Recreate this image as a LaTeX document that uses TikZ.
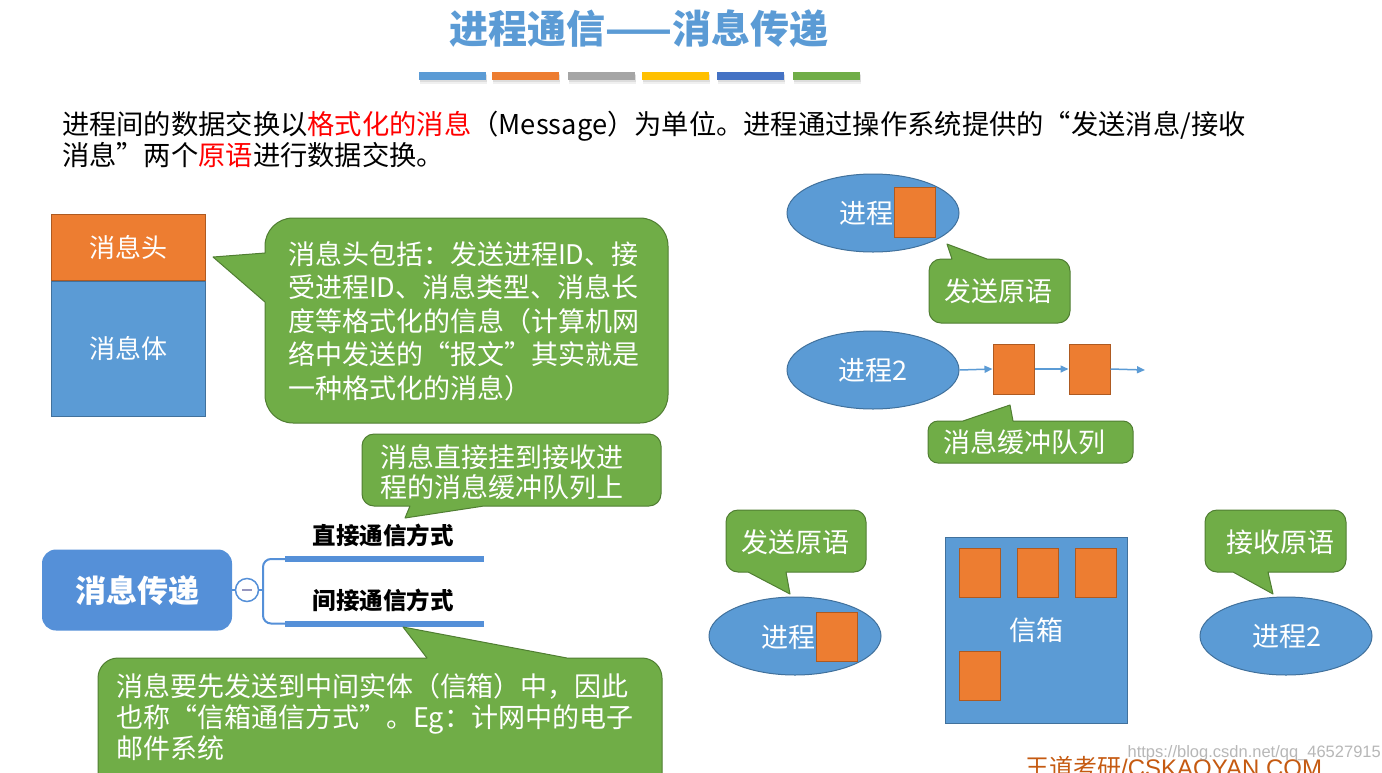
\documentclass[tikz,border=0pt]{standalone}
\usepackage{fontspec}
\setmainfont{Noto Sans CJK SC}
\newfontfamily\latfont{Liberation Sans}
\usetikzlibrary{arrows.meta,shapes.geometric}
\definecolor{obl}{HTML}{5B9BD5}
\definecolor{oblb}{HTML}{41719C}
\definecolor{oor}{HTML}{ED7D31}
\definecolor{oorb}{HTML}{AE5A21}
\definecolor{ogr}{HTML}{70AD47}
\definecolor{ogrb}{HTML}{507E32}
\definecolor{ogy}{HTML}{A5A5A5}
\definecolor{oye}{HTML}{FFC000}
\definecolor{odb}{HTML}{4472C4}
\definecolor{mmb}{HTML}{5590D8}
\definecolor{minusc}{HTML}{9696BE}
\definecolor{brand}{HTML}{C55A11}
\newcommand\calloutshape[8]{(#1+#5,#2) #6 -- (#3-#5,#2) .. controls (#3-0.448*#5,#2) and (#3,#2+0.448*#5) .. (#3,#2+#5) -- (#3,#4-#5) .. controls (#3,#4-0.448*#5) and (#3-0.448*#5,#4) .. (#3-#5,#4) #7 -- (#1+#5,#4) .. controls (#1+0.448*#5,#4) and (#1,#4-0.448*#5) .. (#1,#4-#5) #8 -- (#1,#2+#5) .. controls (#1,#2+0.448*#5) and (#1+0.448*#5,#2) .. (#1+#5,#2) -- cycle}
\begin{document}
\begin{tikzpicture}[x=1pt,y=-1pt,
  txt/.style={inner sep=0pt,outer sep=0pt,align=left},
  wtxt/.style={txt,text=white,font=\fontsize{27}{31}\selectfont},
  callout/.style={fill=ogr,draw=ogrb,line width=1pt,line join=round},
  proc/.style={ellipse,fill=obl,draw=oblb,line width=1pt,minimum width=172pt,minimum height=78pt,inner sep=0pt},
  msgbox/.style={rectangle,fill=oor,draw=oorb,line width=1pt,minimum width=41pt,minimum height=50pt,inner sep=0pt},
  qarrow/.style={draw=obl,line width=1.5pt,-{Triangle[length=8pt,width=7pt]}},
  topic/.style={inner sep=0pt,font=\fontsize{23.5}{26}\selectfont\bfseries,text=black}]
\useasboundingbox (0,0) rectangle (1382,772);
\fill[white] (0,0) rectangle (1382,772);

% title
\node[inner sep=0pt,text=obl,font=\fontsize{39}{42}\selectfont\bfseries] (title) at (639,29) {进程通信——消息传递};
\foreach \x/\c in {419/obl,492/oor,568/ogy,642/oye,717/odb,793/ogr}{
  \fill[black,opacity=0.06] (\x+1,74) rectangle ++(67,10);
  \fill[black,opacity=0.08] (\x+1,75) rectangle ++(67,7);
  \fill[\c] (\x,72) rectangle ++(67,8);
}

% intro paragraph
\node[txt,anchor=west,font=\fontsize{27.3}{31}\selectfont,text=black] (intro) at (62,139.5)
 {进程间的数据交换以\textcolor{red}{格式化的消息}（Message）为单位。进程通过操作系统提供的“发送消息/接收\\消息”两个\textcolor{red}{原语}进行数据交换。};

% message header / body
\node[rectangle,fill=oor,draw=oorb,line width=1pt,minimum width=154pt,minimum height=66pt,inner sep=0pt] (head) at (128,247) {};
\node[rectangle,fill=obl,draw=oblb,line width=1pt,minimum width=154pt,minimum height=135pt,inner sep=0pt,anchor=north] (body) at (head.south) {};
\node[wtxt,font=\fontsize{26}{30}\selectfont] (headt) at (head.center) {消息头};
\node[wtxt,font=\fontsize{26}{30}\selectfont] (bodyt) at (128,348) {消息体};

% callout 1
\path[callout] \calloutshape{265}{218}{668}{423}{28}{}{}{-- (265,302) -- (213,257) -- (265,253)};
\node[wtxt,anchor=west,font=\fontsize{27}{33.5}\selectfont] (c1) at (288,321)
 {消息头包括：发送进程ID、接\\受进程ID、消息类型、消息长\\度等格式化的信息（计算机网\\络中发送的“报文”其实就是\\一种格式化的消息）};

% callout 2
\path[callout] \calloutshape{362}{434}{661}{506}{12}{}{-- (484,506) -- (405,518) -- (410,506)}{};
\node[wtxt,anchor=west,font=\fontsize{27}{30}\selectfont] (c2) at (380,472)
 {消息直接挂到接收进\\程的消息缓冲队列上};

% mind map
\node[rectangle,rounded corners=14pt,fill=mmb,minimum width=190pt,minimum height=81pt,inner sep=0pt] (mm) at (137,590) {};
\node[inner sep=0pt,text=white,font=\fontsize{31}{34}\selectfont\bfseries] (mmt) at (137,591) {消息传递};
\node[circle,draw=mmb,line width=1.5pt,fill=white,minimum size=23pt,inner sep=0pt] (cc) at (247,590) {};
\draw[minusc,line width=1.8pt] ([xshift=-5pt]cc.center) -- ([xshift=5pt]cc.center);
\draw[mmb,line width=1.5pt] (mm.east) -- (cc.west);
\coordinate (br) at (263,590);
\coordinate (l1a) at (285,559);
\coordinate (l1b) at (484,559);
\coordinate (l2a) at (285,623.5);
\coordinate (l2b) at (484,623.5);
\draw[mmb,line width=2pt] (cc.east) -- (br);
\draw[mmb,line width=2pt,rounded corners=8pt] (br) |- (l1a);
\draw[mmb,line width=2pt,rounded corners=8pt] (br) |- (l2a);
\draw[mmb,line width=6pt] (l1a) -- (l1b);
\draw[mmb,line width=6pt] (l2a) -- (l2b);
\node[topic] (t1) at (383,535) {直接通信方式};
\node[topic] (t2) at (383,600) {间接通信方式};

% callout 3
\path[callout] \calloutshape{98}{658}{662}{800}{20}{-- (427,658) -- (403,627) -- (567,658)}{}{};
\node[wtxt,anchor=west,font=\fontsize{27}{31}\selectfont] (c3) at (116,717)
 {消息要先发送到中间实体（信箱）中，因此\\也称“信箱通信方式”。Eg：计网中的电子\\邮件系统};

% direct communication (right top)
\node[proc] (e1) at (873,213) {};
\node[msgbox] (s1) at (914.5,212) {};
\node[wtxt,anchor=east] (e1t) at (893,213) {进程};
\path[callout] \calloutshape{929}{259}{1070}{323}{12}{-- (952,259) -- (947,244) -- (987,259)}{}{};
\node[wtxt] (send1) at (998,291) {发送原语};

\node[proc] (e2) at (873,370) {};
\node[wtxt] (e2t) at (873,370) {进程2};
\node[msgbox] (qa) at (1013.5,369) {};
\node[msgbox] (qb) at (1089.5,369) {};
\coordinate (qend) at (1145,370);
\draw[qarrow] (e2.east) -- (qa.west);
\draw[qarrow] (qa.east) -- (qb.west);
\draw[qarrow] (qb.east) -- (qend);
\path[callout] \calloutshape{928}{421}{1133}{463}{10}{-- (963,421) -- (1010,405) -- (1013,421)}{}{};
\node[wtxt] (queue) at (1024,442) {消息缓冲队列};

% indirect communication (right bottom)
\path[callout] \calloutshape{726}{510}{866}{572}{12}{}{-- (786,572) -- (790,594) -- (748,572)}{};
\node[wtxt] (send2) at (795,542) {发送原语};
\node[proc] (e3) at (795,636) {};
\node[msgbox,minimum height=49pt] (s3) at (836.5,636.5) {};
\node[wtxt,anchor=east] (e3t) at (815,637) {进程};

\node[rectangle,fill=obl,draw=oblb,line width=1pt,minimum width=182pt,minimum height=186pt,inner sep=0pt] (mbox) at (1036,630) {};
\node[msgbox,minimum height=49pt] (m1) at (980,572.5) {};
\node[msgbox,minimum height=49pt] (m2) at (1038,572.5) {};
\node[msgbox,minimum height=49pt] (m3) at (1096,572.5) {};
\node[msgbox,minimum height=49pt] (m4) at (980,675.5) {};
\node[wtxt] (mboxt) at (1036,630) {信箱};

\path[callout] \calloutshape{1205}{510}{1346}{572}{12}{}{-- (1268,572) -- (1273,594) -- (1233,572)}{};
\node[wtxt] (recv) at (1280,542) {接收原语};
\node[proc] (e4) at (1286,636) {};
\node[wtxt] (e4t) at (1287,636) {进程2};

% footer
\node[anchor=base west,inner sep=0pt,text=brand,font=\fontsize{24}{26}\selectfont] (brandt) at (1025,776) {王道考研{\latfont /CSKAOYAN.COM}};
\node[anchor=base east,inner sep=0pt,text=black!40,opacity=0.7,font=\fontsize{16.5}{18}\selectfont\latfont] (wm) at (1381,757) {https://blog.csdn.net/qq\_46527915};
\end{tikzpicture}
\end{document}
